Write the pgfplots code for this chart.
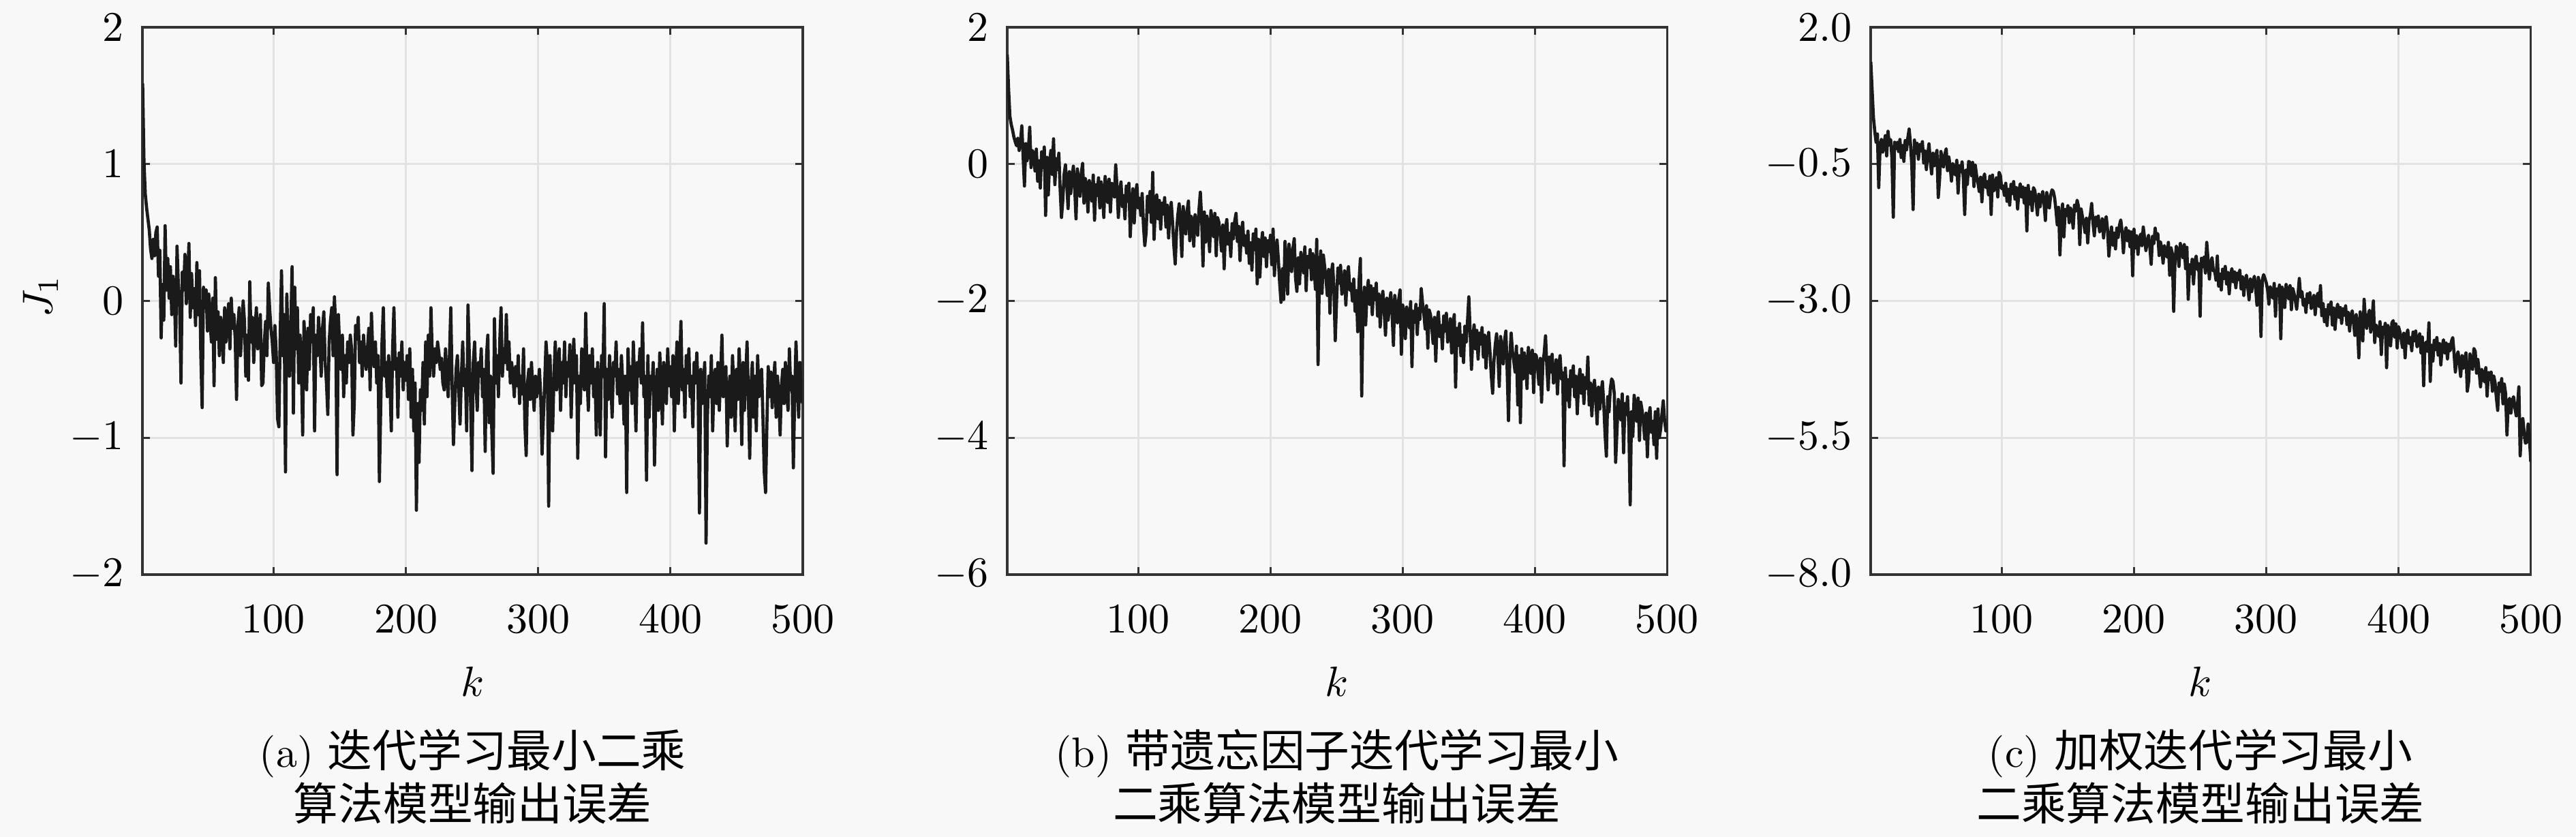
\documentclass[border=0pt]{standalone}
\usepackage{fontspec}
\usepackage{pgfplots}
\usepackage{pgfplotstable}
\pgfplotsset{compat=1.18}
\newfontfamily\cjk{Noto Sans CJK SC}
\definecolor{bgc}{HTML}{F8F8F8}
\definecolor{gridc}{HTML}{E2E2E2}
\definecolor{axc}{HTML}{333333}
\definecolor{linec}{HTML}{1A1A1A}

\pgfplotstableread[header=false,row sep=\\]{
1.59\\1.02\\0.78\\0.68\\0.60\\0.52\\0.38\\0.31\\0.45\\0.33\\0.50\\0.54\\0.18\\0.37\\-0.27\\0.12\\-0.14\\0.55\\0.08\\0.31\\
0.02\\0.25\\-0.10\\0.18\\0.06\\-0.33\\0.40\\0.12\\-0.05\\-0.60\\0.21\\0.08\\0.34\\-0.02\\0.15\\0.42\\-0.12\\0.20\\-0.05\\0.09\\
-0.18\\0.28\\-0.10\\0.22\\-0.40\\-0.78\\0.10\\-0.05\\0.08\\-0.22\\0.05\\-0.15\\-0.30\\0.02\\-0.62\\0.17\\-0.28\\-0.08\\-0.40\\-0.12\\
-0.20\\-0.45\\-0.05\\-0.30\\-0.15\\-0.02\\-0.35\\0.02\\-0.20\\-0.10\\-0.28\\-0.72\\-0.18\\-0.05\\-0.40\\-0.22\\0.00\\-0.15\\-0.55\\-0.25\\
-0.58\\0.14\\-0.30\\-0.12\\-0.45\\-0.20\\-0.05\\-0.35\\-0.25\\-0.10\\-0.62\\-0.60\\-0.30\\-0.15\\-0.40\\0.13\\-0.05\\-0.20\\-0.30\\-0.45\\
-0.18\\-0.38\\-0.86\\-0.92\\-0.25\\0.22\\-0.40\\-0.10\\-1.25\\0.05\\-0.30\\-0.55\\-0.20\\0.25\\-0.82\\0.10\\-0.35\\-0.05\\-0.60\\-0.25\\
-0.45\\-0.98\\-0.15\\-0.35\\-0.65\\-0.20\\-0.50\\-0.10\\-0.30\\-0.05\\-0.95\\-0.25\\-0.40\\-0.12\\-0.30\\-0.55\\-0.20\\-0.08\\-0.45\\-0.60\\
-0.83\\-0.30\\-0.15\\-0.05\\-0.40\\0.03\\-0.20\\-1.27\\-0.10\\-0.35\\-0.50\\-0.25\\-0.70\\-0.40\\-0.60\\-0.30\\-0.45\\-0.25\\-0.35\\-0.98\\
-0.75\\-0.18\\-0.28\\-0.12\\-0.45\\-0.30\\-0.55\\-0.25\\-0.40\\-0.50\\-0.35\\-0.20\\-0.65\\-0.09\\-0.38\\-0.48\\-0.30\\-0.60\\-0.40\\-1.32\\
-0.78\\-0.30\\-0.05\\-0.55\\-0.45\\-0.70\\-0.40\\-0.60\\-0.95\\-0.35\\-0.05\\-0.50\\-0.42\\-0.85\\-0.38\\-0.55\\-0.30\\-0.65\\-0.45\\-0.58\\
-0.40\\-0.72\\-0.35\\-0.85\\-0.50\\-0.95\\-0.60\\-1.53\\-0.75\\-1.18\\-0.65\\-0.80\\-0.45\\-0.90\\-0.30\\-0.70\\-0.25\\-0.55\\-0.05\\-0.40\\
-0.55\\-0.35\\-0.45\\-0.30\\-0.38\\-0.50\\-0.42\\-0.60\\-0.65\\-0.35\\-0.55\\-0.70\\-0.40\\-0.05\\-0.62\\-1.05\\-0.75\\-0.50\\-0.40\\-0.65\\
-0.90\\-0.55\\-0.30\\-0.62\\-0.50\\-0.95\\-0.03\\-0.40\\-0.75\\-1.24\\-0.45\\-0.30\\-0.60\\-0.80\\-0.45\\-0.55\\-0.35\\-0.70\\-0.50\\-1.10\\
-0.40\\-0.25\\-0.89\\-0.55\\-0.95\\-1.26\\-0.13\\-0.60\\-0.40\\-0.70\\-0.30\\-0.05\\-0.55\\-0.35\\-0.45\\-0.10\\-0.50\\-0.30\\-0.60\\-0.45\\
-0.55\\-0.70\\-0.48\\-0.62\\-0.40\\-0.75\\-0.55\\-0.68\\-0.35\\-0.90\\-1.13\\-0.60\\-0.50\\-0.72\\-0.45\\-0.65\\-0.80\\-0.55\\-0.70\\-0.62\\
-0.50\\-0.70\\-1.12\\-0.85\\-0.60\\-0.30\\-0.45\\-1.50\\-0.40\\-0.75\\-0.95\\-0.55\\-0.30\\-0.65\\-0.50\\-0.35\\-0.80\\-0.45\\-0.60\\-0.30\\
-0.70\\-0.45\\-0.55\\-0.32\\-0.85\\-0.50\\-0.28\\-0.60\\-0.40\\-1.15\\-0.55\\-0.75\\-0.35\\-0.48\\-0.65\\-0.09\\-0.55\\-0.80\\-0.40\\-0.60\\
-0.35\\-0.70\\-0.50\\-0.98\\-0.45\\-0.62\\-0.98\\-0.40\\-0.55\\-0.02\\-1.14\\-0.50\\-0.72\\-0.40\\-0.60\\-0.85\\-0.45\\-0.55\\-0.30\\-0.68\\
-0.50\\-0.75\\-0.40\\-0.60\\-0.90\\-0.55\\-1.40\\-0.35\\-0.65\\-0.48\\-0.75\\-0.30\\-0.60\\-0.95\\-0.45\\-0.55\\-0.35\\-0.60\\-0.16\\-0.70\\
-0.55\\-1.31\\-0.40\\-0.85\\-0.55\\-0.65\\-0.45\\-1.20\\-0.70\\-0.50\\-0.80\\-0.38\\-0.60\\-0.90\\-0.45\\-0.55\\-0.75\\-0.35\\-0.62\\-0.48\\
-0.70\\-0.40\\-0.95\\-0.55\\-0.30\\-0.75\\-0.48\\-0.15\\-0.65\\-0.50\\-0.85\\-0.40\\-0.60\\-0.35\\-0.70\\-0.55\\-0.92\\-0.45\\-0.60\\-0.38\\
-0.65\\-1.55\\-0.50\\-0.75\\-0.60\\-0.45\\-1.77\\-0.85\\-0.55\\-0.70\\-0.40\\-0.95\\-0.60\\-0.50\\-0.75\\-0.45\\-0.80\\-0.55\\-0.25\\-0.70\\
-0.60\\-0.48\\-1.06\\-0.70\\-0.55\\-0.85\\-0.40\\-0.65\\-0.95\\-0.50\\-0.72\\-0.35\\-0.60\\-1.05\\-0.45\\-0.80\\-0.55\\-0.30\\-0.70\\-1.15\\
-0.62\\-0.45\\-0.85\\-0.55\\-0.95\\-0.40\\-0.70\\-0.60\\-0.50\\-0.85\\-1.25\\-1.40\\-0.90\\-0.48\\-0.70\\-0.52\\-0.78\\-0.60\\-0.45\\-0.85\\
-0.55\\-0.70\\-0.98\\-0.62\\-0.50\\-0.75\\-0.45\\-0.68\\-0.80\\-0.35\\-0.65\\-0.55\\-1.22\\-0.70\\-0.30\\-0.60\\-0.85\\-0.45\\-0.65\\-0.75\\
}\dataa

\pgfplotstableread[header=false,row sep=\\]{
1.60\\1.10\\0.70\\0.58\\0.50\\0.40\\0.33\\0.27\\0.38\\0.20\\0.32\\0.56\\0.12\\-0.32\\0.30\\0.05\\0.22\\0.54\\-0.05\\0.20\\
0.15\\-0.10\\0.22\\-0.25\\0.05\\-0.35\\0.18\\-0.05\\0.25\\-0.75\\0.10\\-0.45\\0.02\\0.20\\-0.15\\0.37\\-0.30\\0.08\\-0.08\\0.16\\
-0.37\\-0.78\\-0.53\\-0.15\\-0.01\\-0.30\\-0.65\\-0.11\\-0.43\\-0.19\\-0.03\\-0.35\\-0.80\\-0.07\\-0.25\\-0.47\\-0.13\\0.01\\-0.57\\-0.21\\
-0.32\\-0.70\\-0.24\\-0.38\\-0.54\\-0.16\\-0.82\\-0.30\\-0.46\\-0.20\\-0.64\\-0.26\\-0.42\\-0.78\\-0.18\\-0.34\\-0.56\\-0.22\\-0.70\\-0.28\\
-0.30\\-0.48\\-0.01\\-0.34\\-0.78\\-0.40\\-0.26\\-0.62\\-0.46\\-0.80\\-0.32\\-0.54\\-0.28\\-1.06\\-0.58\\-0.36\\-0.86\\-0.44\\-0.30\\-0.64\\
-0.50\\-0.75\\-0.43\\-0.90\\-1.19\\-1.00\\-0.47\\-0.70\\-0.40\\-0.85\\-0.12\\-1.10\\-0.63\\-0.45\\-0.80\\-0.53\\-0.95\\-0.57\\-0.73\\-0.49\\
-0.92\\-0.60\\-1.08\\-0.70\\-0.56\\-0.85\\-1.20\\-1.46\\-0.98\\-0.74\\-0.58\\-0.90\\-1.35\\-0.62\\-0.80\\-1.02\\-0.68\\-0.54\\-1.12\\-0.76\\
-0.82\\-1.20\\-0.74\\-0.88\\-1.04\\-0.66\\-0.41\\-0.80\\-1.49\\-0.70\\-1.14\\-0.76\\-0.92\\-1.28\\-0.68\\-0.84\\-1.06\\-0.72\\-1.34\\-0.78\\
-0.85\\-1.03\\-1.27\\-0.89\\-1.53\\-0.95\\-0.81\\-1.17\\-1.01\\-1.35\\-0.87\\-1.09\\-0.83\\-0.72\\-1.13\\-0.91\\-1.41\\-0.99\\-0.85\\-1.19\\
-1.05\\-1.30\\-0.98\\-1.45\\-1.15\\-1.55\\-1.02\\-1.25\\-0.95\\-1.75\\-1.10\\-1.65\\-1.18\\-1.00\\-1.35\\-1.08\\-1.50\\-1.12\\-1.28\\-1.04\\
-1.47\\-0.95\\-1.63\\-1.25\\-1.11\\-1.40\\-1.75\\-2.02\\-1.53\\-1.98\\-1.13\\-1.45\\-1.90\\-1.17\\-1.35\\-1.57\\-1.23\\-1.09\\-1.67\\-1.86\\
-1.37\\-1.75\\-1.29\\-1.43\\-1.59\\-1.21\\-1.85\\-1.35\\-1.51\\-1.25\\-1.69\\-1.31\\-1.47\\-1.83\\-1.10\\-2.93\\-1.61\\-1.27\\-1.89\\-1.33\\
-1.50\\-1.68\\-1.92\\-1.54\\-2.18\\-1.60\\-1.46\\-1.82\\-2.58\\-2.00\\-1.52\\-1.74\\-1.48\\-1.90\\-1.78\\-1.56\\-2.06\\-1.64\\-1.50\\-1.84\\
-1.75\\-2.00\\-1.68\\-2.15\\-1.85\\-2.45\\-1.72\\-1.38\\-3.39\\-2.10\\-1.80\\-2.35\\-1.88\\-1.70\\-2.05\\-1.78\\-2.20\\-1.82\\-1.98\\-1.74\\
-2.22\\-1.90\\-2.38\\-2.00\\-1.86\\-2.15\\-2.50\\-1.96\\-2.28\\-2.04\\-1.88\\-2.20\\-2.65\\-1.92\\-2.10\\-2.32\\-1.98\\-1.84\\-2.78\\-2.06\\
-2.17\\-2.55\\-2.09\\-2.23\\-2.39\\-2.01\\-2.96\\-2.15\\-2.31\\-2.05\\-2.49\\-2.11\\-2.27\\-1.82\\-2.03\\-2.19\\-2.41\\-2.07\\-2.69\\-2.13\\
-2.20\\-2.38\\-2.62\\-2.24\\-2.88\\-2.30\\-2.16\\-2.52\\-2.36\\-2.70\\-2.22\\-2.44\\-2.18\\-2.60\\-2.48\\-2.26\\-2.76\\-2.34\\-2.20\\-3.26\\
-2.40\\-2.65\\-2.33\\-2.80\\-2.50\\-2.90\\-2.37\\-2.60\\-2.30\\-1.94\\-2.45\\-3.00\\-2.53\\-2.35\\-2.70\\-2.43\\-2.85\\-2.47\\-2.63\\-2.39\\
-2.82\\-2.50\\-2.98\\-2.60\\-2.46\\-2.75\\-3.10\\-3.35\\-2.88\\-2.64\\-2.48\\-2.80\\-3.25\\-2.52\\-2.70\\-2.92\\-2.58\\-2.44\\-3.02\\-3.75\\
-2.82\\-2.47\\-2.74\\-2.88\\-3.04\\-2.66\\-3.52\\-2.80\\-3.78\\-2.70\\-3.14\\-2.76\\-2.92\\-3.28\\-2.68\\-2.84\\-3.06\\-2.72\\-3.34\\-2.78\\
-2.80\\-2.98\\-3.22\\-2.84\\-3.48\\-2.90\\-2.76\\-2.51\\-2.96\\-3.30\\-2.82\\-3.04\\-2.78\\-3.20\\-3.08\\-2.86\\-3.36\\-2.94\\-2.80\\-3.14\\
-3.05\\-4.41\\-2.98\\-3.45\\-3.15\\-3.55\\-3.02\\-3.25\\-2.95\\-3.40\\-3.10\\-3.65\\-3.18\\-3.00\\-3.35\\-3.08\\-3.50\\-3.12\\-3.28\\-2.82\\
-3.52\\-3.20\\-3.68\\-3.30\\-3.16\\-3.45\\-3.80\\-3.26\\-3.58\\-3.34\\-3.18\\-3.50\\-3.95\\-4.27\\-3.40\\-3.62\\-3.28\\-3.14\\-3.18\\-3.36\\
-4.36\\-3.90\\-3.44\\-3.58\\-3.74\\-3.36\\-4.22\\-3.50\\-3.66\\-3.40\\-3.84\\-4.98\\-3.62\\-3.98\\-3.38\\-3.54\\-3.76\\-3.42\\-4.04\\-3.48\\
-3.60\\-3.78\\-4.02\\-3.64\\-4.28\\-3.70\\-3.56\\-3.92\\-3.76\\-4.10\\-3.62\\-4.30\\-3.58\\-4.00\\-3.88\\-3.66\\-3.46\\-3.74\\-3.90\\-3.78\\
}\datab

\pgfplotstableread[header=false,row sep=\\]{
1.37\\0.85\\0.35\\0.10\\-0.10\\0.05\\-0.93\\-0.20\\-0.05\\-0.28\\-0.12\\0.02\\-0.35\\0.10\\-0.15\\-0.05\\-0.40\\-1.47\\-0.10\\-0.22\\
-0.10\\-0.27\\-0.05\\-0.38\\-0.16\\-0.45\\-0.07\\-0.24\\-0.02\\0.14\\-0.13\\-0.52\\-1.33\\-0.06\\-0.30\\-0.12\\-0.41\\-0.14\\-0.26\\-0.09\\
-0.48\\-0.26\\-0.60\\-0.33\\-0.13\\-0.44\\-0.68\\-0.30\\-0.53\\-0.36\\-0.25\\-1.11\\-0.78\\-0.27\\-0.40\\-0.55\\-0.32\\-0.22\\-0.62\\-0.37\\
-0.54\\-0.81\\-0.49\\-0.59\\-0.70\\-0.43\\-1.03\\-0.53\\-0.64\\-0.46\\-0.77\\-1.42\\-0.61\\-0.87\\-0.45\\-0.47\\-0.71\\-0.47\\-0.91\\-0.52\\
-0.71\\-0.84\\-1.00\\-0.74\\-1.19\\-0.78\\-0.68\\-0.93\\-0.82\\-1.06\\-0.72\\-1.42\\-0.70\\-0.99\\-0.91\\-0.75\\-1.10\\-0.65\\-0.71\\-0.95\\
-0.90\\-1.07\\-0.85\\-1.18\\-0.96\\-1.25\\-0.87\\-1.04\\-0.82\\-1.14\\-0.93\\-1.32\\-0.99\\-0.86\\-1.10\\-0.92\\-1.21\\-0.94\\-1.72\\-0.89\\
-1.23\\-1.01\\-1.35\\-0.93\\-0.98\\-1.19\\-1.43\\-1.05\\-1.28\\-1.11\\-1.00\\-1.22\\-1.53\\-1.02\\-1.15\\-1.30\\-1.07\\-0.97\\-1.00\\-1.12\\
-1.34\\-1.61\\-1.29\\-2.16\\-1.50\\-1.23\\-1.83\\-1.33\\-1.44\\-1.26\\-1.57\\-1.30\\-1.41\\-1.67\\-1.25\\-1.36\\-1.16\\-1.27\\-1.97\\-1.32\\
-1.46\\-1.59\\-1.75\\-1.49\\-1.94\\-1.53\\-1.43\\-1.22\\-1.57\\-1.81\\-1.47\\-1.63\\-1.45\\-1.74\\-1.66\\-1.50\\-1.85\\-1.56\\-1.46\\-1.70\\
-2.18\\-1.87\\-1.65\\-1.98\\-1.76\\-2.05\\-1.67\\-1.84\\-1.62\\-1.52\\-1.73\\-2.12\\-1.79\\-1.66\\-1.90\\-1.72\\-2.01\\-1.74\\-2.54\\-1.69\\
-2.03\\-1.81\\-2.15\\-1.88\\-1.78\\-1.99\\-1.65\\-1.85\\-2.08\\-1.91\\-1.80\\-2.02\\-2.33\\-1.82\\-1.95\\-1.67\\-1.87\\-1.77\\-2.17\\-1.92\\
-2.04\\-2.31\\-1.99\\-2.09\\-2.20\\-1.93\\-2.53\\-2.03\\-2.14\\-3.19\\-2.27\\-2.00\\-2.11\\-2.37\\-1.95\\-2.06\\-2.21\\-1.97\\-2.41\\-2.02\\
-2.97\\-2.34\\-2.50\\-2.24\\-2.69\\-2.28\\-2.18\\-2.43\\-2.32\\-3.28\\-2.22\\-2.38\\-2.20\\-2.49\\-1.93\\-2.25\\-2.60\\-2.31\\-2.21\\-2.45\\
-2.45\\-2.62\\-2.18\\-2.73\\-2.51\\-2.80\\-2.42\\-2.59\\-2.37\\-2.69\\-2.48\\-2.87\\-2.54\\-2.41\\-2.65\\-2.47\\-2.76\\-2.49\\-2.61\\-2.44\\
-2.78\\-2.56\\-2.90\\-2.63\\-2.53\\-2.74\\-2.98\\-2.60\\-2.83\\-2.66\\-2.55\\-2.77\\-3.08\\-2.57\\-2.70\\-3.65\\-2.62\\-2.52\\-2.59\\-2.67\\
-2.79\\-3.06\\-2.74\\-2.84\\-2.95\\-2.68\\-3.28\\-2.78\\-2.89\\-2.71\\-3.69\\-2.75\\-2.86\\-3.12\\-2.70\\-2.81\\-2.96\\-2.72\\-3.16\\-2.77\\
-2.86\\-2.99\\-3.15\\-2.89\\-2.59\\-2.93\\-2.83\\-3.08\\-2.97\\-3.21\\-2.87\\-3.03\\-2.85\\-3.14\\-3.06\\-2.90\\-3.25\\-2.96\\-2.86\\-3.10\\
-2.72\\-3.27\\-3.05\\-3.38\\-3.16\\-3.45\\-3.07\\-3.24\\-3.02\\-3.44\\-3.13\\-3.52\\-3.19\\-3.06\\-3.30\\-3.12\\-3.41\\-3.14\\-3.26\\-3.09\\
-3.43\\-3.21\\-3.55\\-3.28\\-3.18\\-3.39\\-3.63\\-3.25\\-3.48\\-4.04\\-3.20\\-3.42\\-3.73\\-2.97\\-3.35\\-3.50\\-3.27\\-3.17\\-3.57\\-3.32\\
-3.00\\-3.76\\-3.44\\-3.54\\-3.65\\-3.38\\-3.98\\-3.48\\-3.59\\-3.41\\-4.22\\-3.45\\-3.56\\-3.82\\-3.40\\-3.36\\-3.66\\-3.42\\-3.86\\-3.47\\
-3.56\\-3.69\\-3.85\\-3.59\\-4.04\\-3.63\\-3.53\\-3.78\\-3.67\\-3.91\\-3.57\\-3.73\\-3.55\\-3.84\\-3.76\\-3.60\\-3.95\\-3.66\\-4.55\\-3.80\\
-3.75\\-3.92\\-3.40\\-4.47\\-3.81\\-4.10\\-3.72\\-3.89\\-3.67\\-3.99\\-3.78\\-4.17\\-3.84\\-3.71\\-3.95\\-3.77\\-4.06\\-3.79\\-3.91\\-3.74\\
-3.67\\-3.96\\-4.30\\-4.03\\-3.93\\-4.14\\-4.38\\-4.00\\-4.23\\-4.06\\-3.95\\-4.65\\-4.48\\-3.97\\-4.10\\-4.25\\-3.87\\-3.92\\-4.32\\-4.07\\
-4.29\\-4.57\\-4.25\\-4.36\\-4.48\\-4.22\\-4.74\\-4.31\\-4.44\\-4.30\\-4.65\\-4.37\\-4.49\\-4.77\\-5.00\\-4.50\\-4.65\\-4.42\\-4.88\\-4.52\\
-4.70\\-5.45\\-4.85\\-4.78\\-5.05\\-4.82\\-4.75\\-4.95\\-5.10\\-4.90\\-4.57\\-5.83\\-5.30\\-5.15\\-5.40\\-5.60\\-5.58\\-5.25\\-5.50\\-5.94\\
}\datac

\pgfplotsset{myax/.style={
  scale only axis, width=156.2pt, height=129.5pt, anchor=south west,
  xmin=1, xmax=500, xtick={100,200,300,400,500},
  grid=major, major grid style={draw=gridc, line width=0.5pt},
  axis line style={draw=axc, line width=0.6pt},
  every tick/.style={draw=axc, line width=0.5pt},
  major tick length=1.8pt, tick align=inside, tick pos=both,
  xticklabel style={yshift=-3.8pt}, yticklabel style={xshift=-0.9pt},
  tick label style={font=\fontsize{10}{12}\selectfont},
}}
\tikzset{cjkcap/.style={anchor=base, inner sep=0pt}}

\begin{document}
\begin{tikzpicture}
\path[use as bounding box, fill=bgc] (0,0) rectangle (609.68pt,198.06pt);

\begin{axis}[myax, at={(33.76pt,62.10pt)}, ymin=-2, ymax=2, ytick={-2,-1,0,1,2}]
\addplot[draw=linec, line width=0.75pt, line join=round, mark=none] table[x expr=\coordindex+1, y index=0] {\dataa};
\end{axis}

\begin{axis}[myax, at={(238.39pt,62.10pt)}, ymin=-6, ymax=2, ytick={-6,-4,-2,0,2}]
\addplot[draw=linec, line width=0.75pt, line join=round, mark=none] table[x expr=\coordindex+1, y index=0] {\datab};
\end{axis}

\begin{axis}[myax, at={(442.77pt,62.10pt)}, ymin=-8, ymax=2, ytick={-8,-5.5,-3,-0.5,2},
  yticklabel style={/pgf/number format/.cd, fixed, fixed zerofill, precision=1}]
\addplot[draw=linec, line width=0.75pt, line join=round, mark=none] table[x expr=\coordindex+1, y index=0] {\datac};
\end{axis}

\node[rotate=90] at (9.7pt,128.0pt) {$J_1$};
\node at (111.9pt,36.8pt) {$k$};
\node at (316.4pt,36.8pt) {$k$};
\node at (520.8pt,36.8pt) {$k$};

\node[cjkcap] at (111.9pt,16.5pt) {(a) {\cjk\fontsize{10.6}{12}\selectfont 迭代学习最小二乘}};
\node[cjkcap] at (111.9pt,4.0pt) {\cjk\fontsize{10.6}{12}\selectfont 算法模型输出误差};
\node[cjkcap] at (316.4pt,16.5pt) {(b) {\cjk\fontsize{10.6}{12}\selectfont 带遗忘因子迭代学习最小}};
\node[cjkcap] at (316.4pt,4.0pt) {\cjk\fontsize{10.6}{12}\selectfont 二乘算法模型输出误差};
\node[cjkcap] at (520.8pt,16.5pt) {(c) {\cjk\fontsize{10.6}{12}\selectfont 加权迭代学习最小}};
\node[cjkcap] at (520.8pt,4.0pt) {\cjk\fontsize{10.6}{12}\selectfont 二乘算法模型输出误差};
\end{tikzpicture}
\end{document}
